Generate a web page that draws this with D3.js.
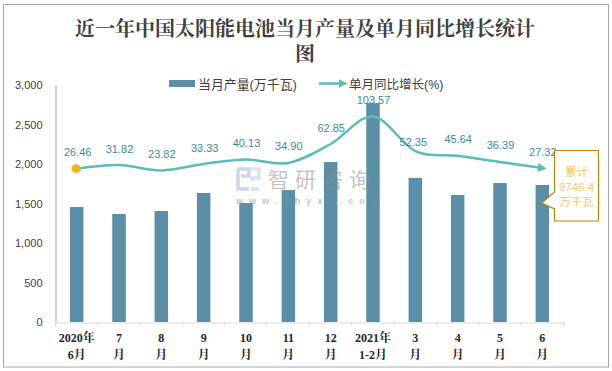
<!DOCTYPE html>
<html><head><meta charset="utf-8">
<script src="https://cdn.jsdelivr.net/npm/d3@7"></script>
<style>html,body{margin:0;padding:0;background:#fff}svg{display:block}</style>
</head><body><svg id="c" width="612" height="371"></svg>
<script>
const categories=[["2020年","6月"],["7","月"],["8","月"],["9","月"],["10","月"],["11","月"],["12","月"],["2021年","1-2月"],["3","月"],["4","月"],["5","月"],["6","月"]];
const output=[1456,1367,1405,1633,1506,1670,2025,2770,1823,1608,1759,1734];
const growth=[26.46,31.82,23.82,33.33,40.13,34.90,62.85,103.57,52.35,45.64,36.39,27.32];
const growthLabels=["26.46","31.82","23.82","33.33","40.13","34.90","62.85","103.57","52.35","45.64","36.39","27.32"];
const yTicks=[0,500,1000,1500,2000,2500,3000];
const titleLines=["近一年中国太阳能电池当月产量及单月同比增长统计","图"];
const legendNames=["当月产量(万千瓦)","单月同比增长(%)"];
const calloutLines=["累计","9746.4","万千瓦"];
const watermark="智研咨询";
const watermarkUrl="www.chyxx.com";

const svg=d3.select("#c");
const sans='"Liberation Sans","Noto Sans CJK SC",sans-serif';
const serif='"Liberation Serif","Noto Serif CJK SC","Noto Sans CJK SC",serif';
const x=d3.scaleBand().domain(d3.range(categories.length)).range([55.5,563.5]).paddingInner(0).paddingOuter(0);
const y=d3.scaleLinear().domain([0,3000]).range([322,85]);
const y2=d3.scaleLinear().domain([-200,150]).range([322,85]);
const cx=i=>x(i)+x.bandwidth()/2;

svg.append("rect").attr("x",3.5).attr("y",4.5).attr("width",605).attr("height",362.5).attr("fill","#fff").attr("stroke","#a6a6a6").attr("stroke-width",1);

// title
svg.append("g").selectAll("text").data(titleLines).join("text")
 .attr("x",305).attr("y",(d,i)=>36+i*25).attr("text-anchor","middle").attr("font-family",serif)
 .attr("font-size",20).attr("font-weight","bold").attr("fill","#404040").text(d=>d);

// bars
svg.append("g").selectAll("rect").data(output).join("rect")
 .attr("x",(d,i)=>cx(i)-6.75).attr("width",13.5).attr("y",d=>y(d)).attr("height",d=>322-y(d)).attr("fill","#5b8fa8");

// axes
const ya=d3.axisLeft(y).tickValues(yTicks).tickFormat(d3.format(",")).tickSize(0).tickPadding(13);
const gy=svg.append("g").attr("transform","translate(55.5,0)").call(ya);
gy.select(".domain").attr("stroke","#a6a6a6");
gy.selectAll("text").attr("font-family",sans).attr("font-size",11).attr("fill","#404040");

const xa=d3.axisBottom(x).tickSize(0).tickFormat("");
const gx=svg.append("g").attr("transform","translate(0,322.5)").call(xa);
gx.select(".domain").attr("stroke","#d9d9d9").attr("stroke-width",1);
gx.selectAll(".tick").remove();
svg.append("g").selectAll("line").data(d3.range(categories.length+1)).join("line")
 .attr("x1",i=>i<categories.length?x(i):563.5).attr("x2",i=>i<categories.length?x(i):563.5)
 .attr("y1",322.5).attr("y2",326).attr("stroke","#d9d9d9");
const labs=svg.append("g").selectAll("g").data(categories).join("g");
labs.selectAll("text").data((d,i)=>d.map(t=>({t,i}))).join("text")
 .attr("x",d=>cx(d.i)).attr("y",(d,j)=>342+j*17).attr("text-anchor","middle")
 .attr("font-family",serif).attr("font-size",12).attr("font-weight","bold").attr("fill","#262626").text(d=>d.t);

// line
const lineGen=d3.line().x((d,i)=>cx(i)).y(d=>y2(d)).curve(d3.curveCatmullRom.alpha(0));
const defs=svg.append("defs");
defs.append("marker").attr("id","arr").attr("viewBox","0 0 10 10").attr("refX",5).attr("refY",5)
 .attr("markerWidth",3.6).attr("markerHeight",3.6).attr("orient","auto").attr("markerUnits","strokeWidth")
 .append("path").attr("d","M0 0L10 5L0 10Z").attr("fill","#5cbdb5");
svg.append("path").datum(growth).attr("d",lineGen).attr("fill","none").attr("stroke","#5cbdb5").attr("stroke-width",2.5).attr("marker-end","url(#arr)");
svg.append("circle").attr("cx",cx(0)-0.5).attr("cy",y2(growth[0])).attr("r",4.5).attr("fill","#f4b41f");

// labels
svg.append("g").selectAll("text").data(growthLabels).join("text")
 .attr("x",(d,i)=>cx(i)+(i===8?-2:i===3||i===0?1:0.5)).attr("y",(d,i)=>y2(growth[i])-(i===8?5:12.5))
 .attr("text-anchor","middle").attr("font-family",sans).attr("font-size",11).attr("fill","#3a8c96").text(d=>d);

// legend
const leg=svg.append("g");
leg.append("rect").attr("x",169).attr("y",80).attr("width",26).attr("height",7).attr("fill","#5b8fa8");
leg.append("text").attr("x",198).attr("y",89).attr("font-family",sans).attr("font-size",12.9).attr("fill","#404040").text(legendNames[0]);
leg.append("line").attr("x1",319).attr("x2",343).attr("y1",83.5).attr("y2",83.5).attr("stroke","#5cbdb5").attr("stroke-width",2.5).attr("marker-end","url(#arr)");
leg.append("text").attr("x",349).attr("y",89).attr("font-family",sans).attr("font-size",12.5).attr("fill","#404040").text(legendNames[1]);

// callout
svg.append("path").attr("d","M554.5 150.5H598.5V221H554.5V209L541.7 203L554.5 192Z").attr("fill","#fff").attr("stroke","#b8860b").attr("stroke-width",1.2);
svg.append("g").selectAll("text").data(calloutLines).join("text")
 .attr("x",576.5).attr("y",(d,i)=>176+i*15).attr("text-anchor","middle").attr("font-family",sans)
 .attr("font-size",11.5).attr("fill","#f7c65f").text(d=>d);

// watermark over the chart
const wmk=svg.append("g").attr("opacity",0.5);
wmk.append("text").attr("x",268).attr("y",187).attr("font-family",sans).attr("font-size",21).attr("letter-spacing",6).attr("fill","#8a8a8a").text(watermark);
wmk.append("text").attr("x",236).attr("y",204).attr("font-family",sans).attr("font-size",9).attr("letter-spacing",6.1).attr("font-weight","bold").attr("fill","#8a8a8a").text(watermarkUrl);
wmk.append("path").attr("d","M238 169H249V176H241M238 169V189H249").attr("fill","none").attr("stroke","#9aaed0").attr("stroke-width",3.5);
wmk.append("path").attr("d","M251 169H259V178H252V181M259 189H251").attr("fill","none").attr("stroke","#a5cdea").attr("stroke-width",3.5);
</script></body></html>
